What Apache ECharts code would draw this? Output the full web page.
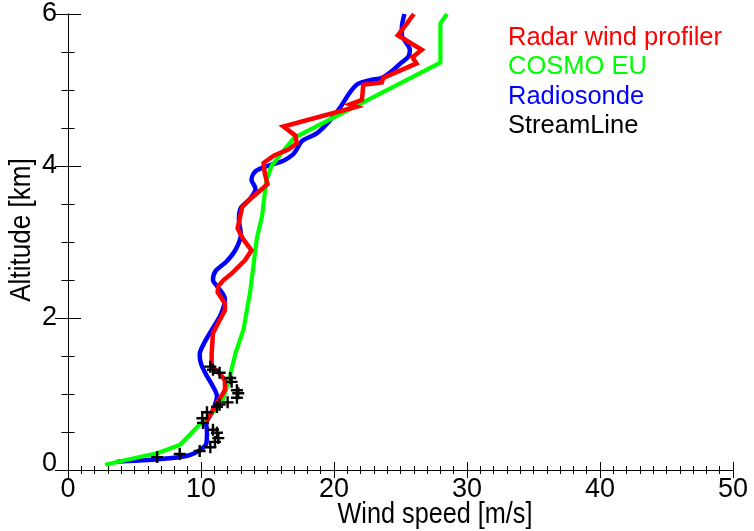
<!DOCTYPE html>
<html>
<head>
<meta charset="utf-8">
<script src="https://cdn.jsdelivr.net/npm/echarts@6/dist/echarts.min.js"></script>
<style>
  html, body { margin: 0; padding: 0; background: #fff; }
  #chart { width: 754px; height: 531px; }
</style>
</head>
<body>
<div id="chart"></div>
<script>
// Wind speed profiles [m/s] against altitude [km]

// Radar wind profiler
const radarSpeed = [10.4, 11.2, 11.8, 11.8, 11.4, 10.8, 10.8, 10.9, 11.4, 11.8, 11.8, 11.25, 11.3, 11.7, 12.4, 13.3, 13.8, 13.2, 12.75, 12.9, 13.1, 13.6, 15.0, 14.8, 14.7, 15.5, 16.6, 17.2, 17.1, 16.2, 21.7, 21.2, 22.1, 22.2, 23.6, 23.7, 26.2, 25.9, 26.6, 24.8, 25.5, 26.0];
const radarAlt   = [0.64, 0.88, 1.05, 1.18, 1.27, 1.36, 1.52, 1.80, 1.97, 2.10, 2.19, 2.34, 2.42, 2.50, 2.60, 2.76, 2.89, 3.03, 3.18, 3.30, 3.46, 3.55, 3.76, 3.90, 4.04, 4.14, 4.22, 4.30, 4.40, 4.52, 4.78, 4.81, 4.87, 5.07, 5.10, 5.16, 5.35, 5.43, 5.53, 5.72, 5.88, 6.00];

// COSMO EU model
const cosmoSpeed = [2.8, 4.7, 6.7, 8.4, 9.2, 9.9, 10.7, 11.6, 12.1, 12.6, 13.2, 13.7, 14.2, 14.6, 14.9, 15.3, 16.2, 17.0, 28.0, 28.0, 28.5];
const cosmoAlt   = [0.07, 0.145, 0.22, 0.33, 0.47, 0.60, 0.72, 0.90, 1.18, 1.54, 1.85, 2.35, 3.05, 3.35, 3.80, 4.00, 4.20, 4.37, 5.36, 5.88, 6.00];

// Radiosonde ascent
const sondeSpeed = [3.7, 6.0, 8.0, 9.2, 9.9, 10.4, 10.45, 10.4, 10.8, 11.2, 10.9, 10.4, 10.0, 9.9, 10.3, 10.8, 11.5, 11.8, 11.3, 10.9, 11.1, 11.9, 12.6, 13.0, 12.85, 13.0, 13.7, 14.1, 13.8, 14.1, 15.0, 16.2, 16.9, 17.2, 17.6, 18.7, 19.7, 20.5, 21.2, 21.8, 22.7, 23.6, 24.3, 25.0, 25.6, 25.7, 25.4, 25.1, 25.1, 25.3];
const sondeAlt   = [0.11, 0.13, 0.16, 0.20, 0.26, 0.35, 0.50, 0.61, 0.75, 0.97, 1.10, 1.25, 1.40, 1.52, 1.69, 1.84, 2.05, 2.25, 2.40, 2.50, 2.62, 2.74, 2.90, 3.10, 3.30, 3.45, 3.57, 3.70, 3.82, 3.93, 4.00, 4.07, 4.15, 4.22, 4.33, 4.43, 4.60, 4.78, 4.97, 5.08, 5.13, 5.16, 5.24, 5.35, 5.44, 5.53, 5.63, 5.72, 5.82, 6.00];

// StreamLine Doppler lidar
const lidarSpeed = [6.7, 8.4, 9.9, 10.7, 11.05, 11.3, 11.2, 10.9, 10.15, 10.1, 10.45, 11.2, 11.4, 12.0, 12.7, 12.8, 12.7, 12.3, 12.2, 11.4, 10.9, 10.7];
const lidarAlt   = [0.17, 0.21, 0.25, 0.30, 0.37, 0.42, 0.49, 0.53, 0.62, 0.68, 0.76, 0.83, 0.86, 0.89, 0.95, 1.01, 1.05, 1.16, 1.21, 1.28, 1.32, 1.36];

const xTicks = [0, 10, 20, 30, 40, 50];
const yTicks = [0, 2, 4, 6];

const pairs = (xs, ys) => xs.map((x, i) => [x, ys[i]]);

const sans = "'Liberation Sans', Arial, Helvetica, sans-serif";

const chart = echarts.init(document.getElementById('chart'), null, { renderer: 'canvas' });

const axisLineStyle = { color: '#000', width: 1 };
const tickFont = { fontFamily: sans, fontSize: 27, color: '#000' };

chart.setOption({
  animation: false,
  backgroundColor: '#fff',
  grid: { left: 68, right: 21, top: 14, bottom: 61, containLabel: false, outerBoundsMode: 'none' },
  legend: {
    orient: 'vertical',
    left: 498,
    top: 18,
    icon: 'none',
    itemWidth: 0,
    itemHeight: 1,
    itemGap: 0,
    selectedMode: false,
    textStyle: { fontFamily: sans, fontSize: 25.5, lineHeight: 29.5 },
    data: [
      { name: 'Radar wind profiler', textStyle: { color: '#ff0000' } },
      { name: 'COSMO EU', textStyle: { color: '#00ff00' } },
      { name: 'Radiosonde', textStyle: { color: '#0000ff' } },
      { name: 'StreamLine', textStyle: { color: '#000000' } }
    ]
  },
  // axis titles, set in a condensed width
  graphic: [
    {
      type: 'text', x: 435, y: 515, scaleX: 0.87, silent: true,
      style: { text: 'Wind speed [m/s]', fontFamily: sans, fontSize: 29, fill: '#000', align: 'center', verticalAlign: 'middle' }
    },
    {
      type: 'text', x: 22, y: 230, rotation: Math.PI / 2, scaleX: 0.9, silent: true,
      style: { text: 'Altitude [km]', fontFamily: sans, fontSize: 29, fill: '#000', align: 'center', verticalAlign: 'middle' }
    }
  ],
  xAxis: [
    {
      type: 'value', position: 'bottom', min: xTicks[0], max: xTicks[xTicks.length - 1], interval: 10,
      axisLine: { show: true, lineStyle: axisLineStyle },
      axisTick: { show: true, inside: true, length: 8, lineStyle: axisLineStyle },
      minorTick: { show: true, splitNumber: 10, length: 4, lineStyle: axisLineStyle },
      axisLabel: Object.assign({ margin: 6 }, tickFont),
      splitLine: { show: false }
    },
    {
      type: 'value', position: 'top', min: xTicks[0], max: xTicks[xTicks.length - 1], interval: 10,
      axisLine: { show: true, lineStyle: axisLineStyle },
      axisTick: { show: true, inside: true, length: 8, lineStyle: axisLineStyle },
      minorTick: { show: true, splitNumber: 10, length: 4, lineStyle: axisLineStyle },
      axisLabel: { show: false },
      splitLine: { show: false }
    }
  ],
  yAxis: [
    {
      type: 'value', position: 'left', min: yTicks[0], max: yTicks[yTicks.length - 1], interval: 2,
      axisLine: { show: true, lineStyle: axisLineStyle },
      axisTick: { show: true, inside: true, length: 13, lineStyle: axisLineStyle },
      minorTick: { show: true, splitNumber: 4, length: 6.5, lineStyle: axisLineStyle },
      axisLabel: Object.assign({
        margin: 11,
        formatter: v => (v === 0 ? '{z|0}' : String(v)),
        rich: { z: Object.assign({ padding: [0, 0, 12, 0] }, tickFont) }
      }, tickFont),
      splitLine: { show: false }
    },
    {
      type: 'value', position: 'right', min: yTicks[0], max: yTicks[yTicks.length - 1], interval: 2,
      axisLine: { show: true, lineStyle: axisLineStyle },
      axisTick: { show: true, inside: true, length: 13, lineStyle: axisLineStyle },
      minorTick: { show: true, splitNumber: 4, length: 6.5, lineStyle: axisLineStyle },
      axisLabel: { show: false },
      splitLine: { show: false }
    }
  ],
  series: [
    {
      name: 'Radiosonde', type: 'line', xAxisIndex: 0, yAxisIndex: 0,
      data: pairs(sondeSpeed, sondeAlt), smooth: 0.3, showSymbol: false, symbol: 'none',
      lineStyle: { color: '#0000ff', width: 4.5 }, itemStyle: { color: '#0000ff' }, z: 2
    },
    {
      name: 'COSMO EU', type: 'line', xAxisIndex: 0, yAxisIndex: 0,
      data: pairs(cosmoSpeed, cosmoAlt), showSymbol: false, symbol: 'none',
      lineStyle: { color: '#00ff00', width: 4.2 }, itemStyle: { color: '#00ff00' }, z: 3
    },
    {
      name: 'Radar wind profiler', type: 'line', xAxisIndex: 0, yAxisIndex: 0,
      data: pairs(radarSpeed, radarAlt), showSymbol: false, symbol: 'none',
      lineStyle: { color: '#ff0000', width: 4.5, join: 'miter' }, itemStyle: { color: '#ff0000' }, z: 4
    },
    {
      name: 'StreamLine', type: 'scatter', xAxisIndex: 0, yAxisIndex: 0,
      data: pairs(lidarSpeed, lidarAlt),
      symbol: 'path://M4,0H6V4H10V6H6V10H4V6H0V4H4Z', symbolSize: 12,
      itemStyle: { color: '#000', opacity: 1 }, z: 5
    }
  ]
});
</script>
</body>
</html>
